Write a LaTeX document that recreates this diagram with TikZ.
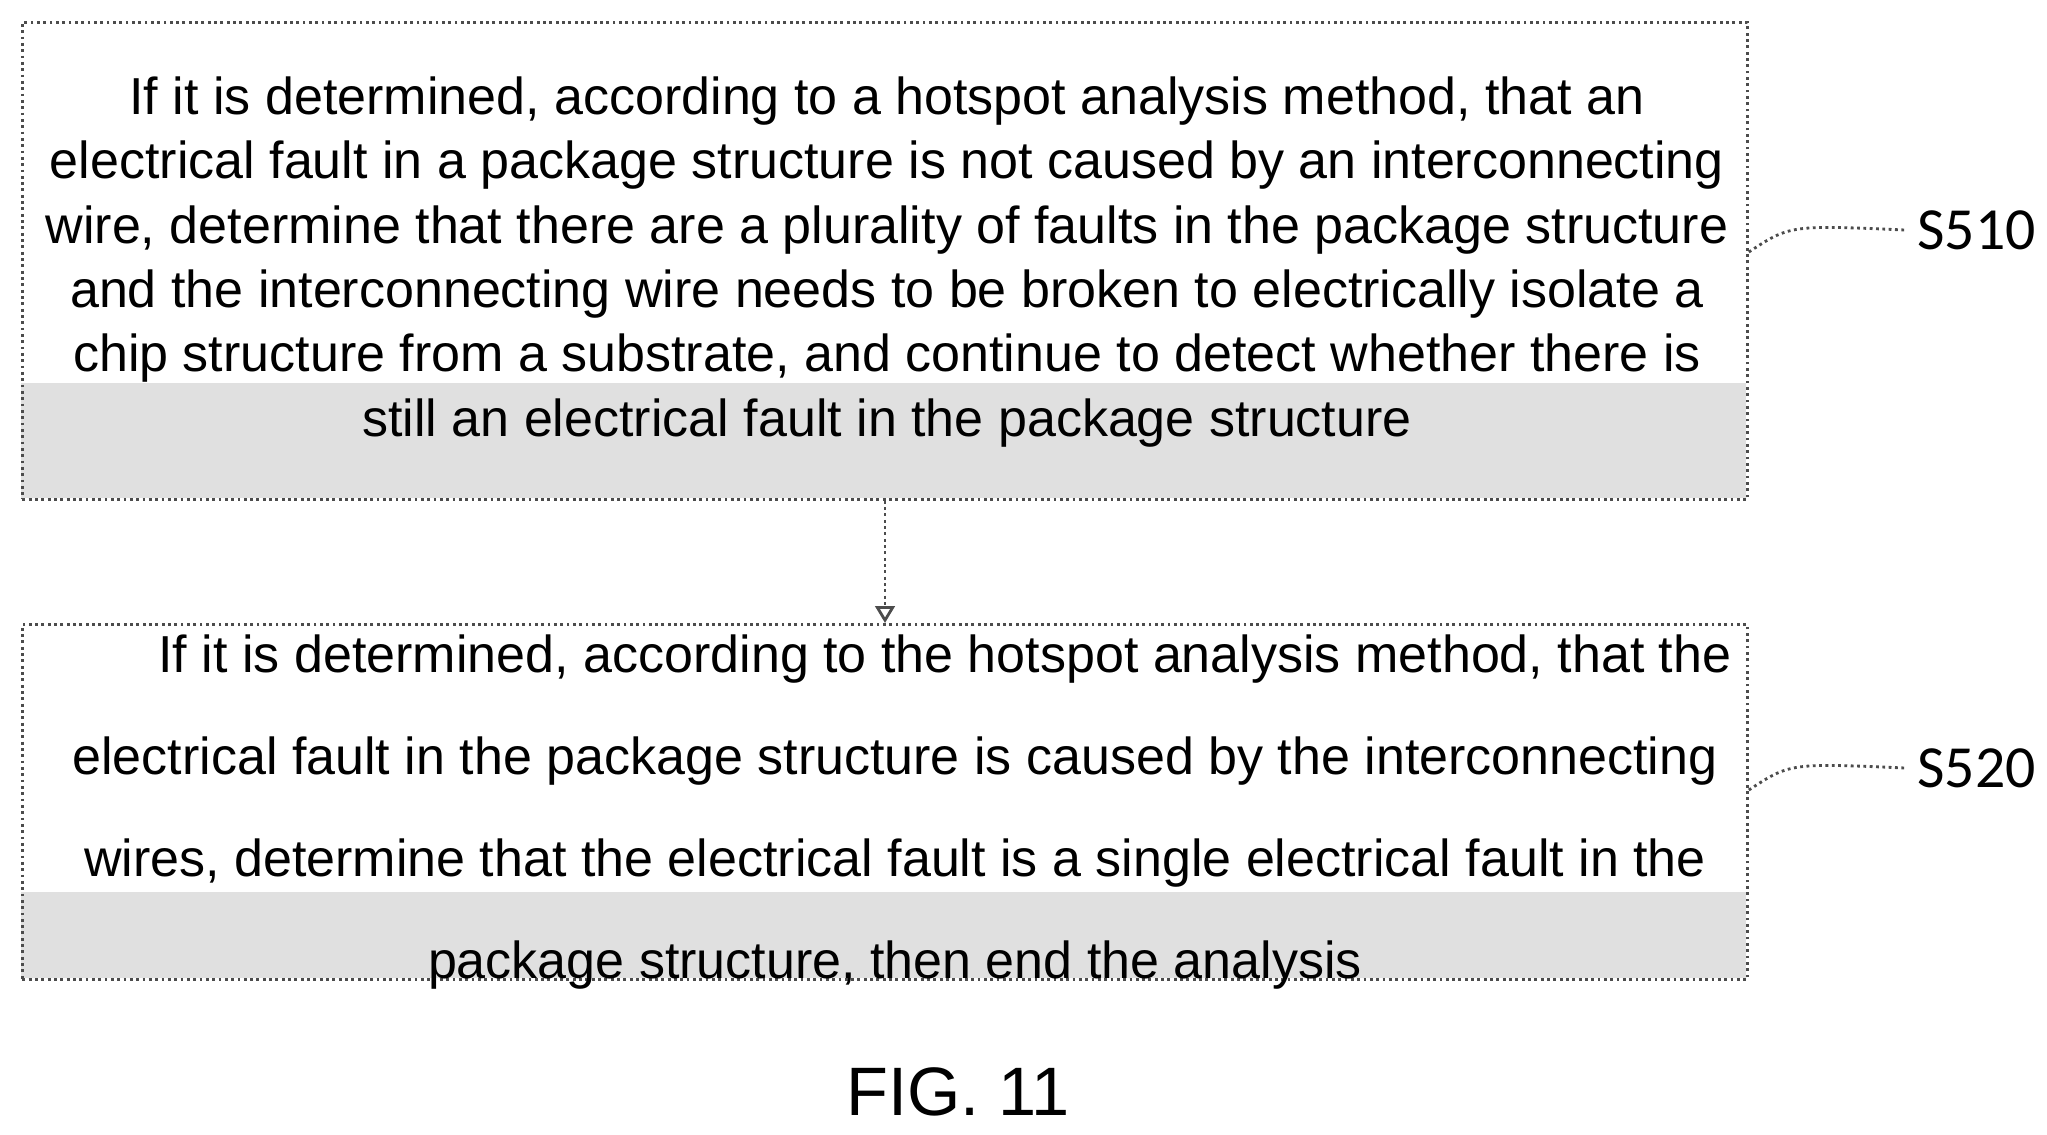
\documentclass[tikz,border=0pt]{standalone}
\usepackage{fontspec}
\setmainfont{Liberation Sans}
\newfontfamily\labelfont{Carlito}
\usetikzlibrary{arrows.meta,positioning}
\begin{document}
\begin{tikzpicture}
	[x=1cm,y=1cm,
		step box/.style={draw=black!70,densely dotted,thick,rectangle,minimum width=17.25cm,anchor=north west},
		step text/.style={align=center,font=\fontsize{14.8}{18.3}\selectfont},
		step label/.style={anchor=west,font=\labelfont\fontsize{17}{20}\selectfont},
		leader/.style={black!70,densely dotted,thick}]
	\useasboundingbox (0,0) rectangle (20.47,-11.34);

	% shaded bottoms of the boxes
	\fill[black!12] (0.21,-3.83) rectangle (17.46,-4.98);
	\fill[black!12] (0.21,-8.92) rectangle (17.46,-9.78);

	\node[step box,minimum height=4.77cm] (box1) at (0.21,-0.21) {};
	\node[step box,minimum height=3.55cm] (box2) at (0.21,-6.23) {};

	\node[step text] (t1) at (8.87,-2.62) {If it is determined, according to a hotspot analysis method, that an\\ electrical fault in a package structure is not caused by an interconnecting\\ wire, determine that there are a plurality of faults in the package structure\\ and the interconnecting wire needs to be broken to electrically isolate a\\ chip structure from a substrate, and continue to detect whether there is\\ still an electrical fault in the package structure};
	\node[step text,font=\fontsize{14.8}{29}\selectfont] (t2) at (8.95,-8.12) {\hspace*{1.0cm}If it is determined, according to the hotspot analysis method, that the\\ electrical fault in the package structure is caused by the interconnecting\\ wires, determine that the electrical fault is a single electrical fault in the\\ package structure, then end the analysis};

	\draw[leader,-{Triangle[open]}] (box1.south -| 8.85,0) -- (box2.north -| 8.85,0);

	\node[step label] (l1) at (19.05,-2.30) {S510};
	\node[step label] (l2) at (19.05,-7.68) {S520};
	\draw[leader] (box1.east |- 0,-2.52) .. controls (17.9,-2.25) .. (l1.west);
	\draw[leader] (box2.east |- 0,-7.90) .. controls (17.9,-7.63) .. (l2.west);

	\node[font=\fontsize{19.5}{24}\selectfont] (fig) at (9.58,-10.92) {FIG. 11};
\end{tikzpicture}
\end{document}
